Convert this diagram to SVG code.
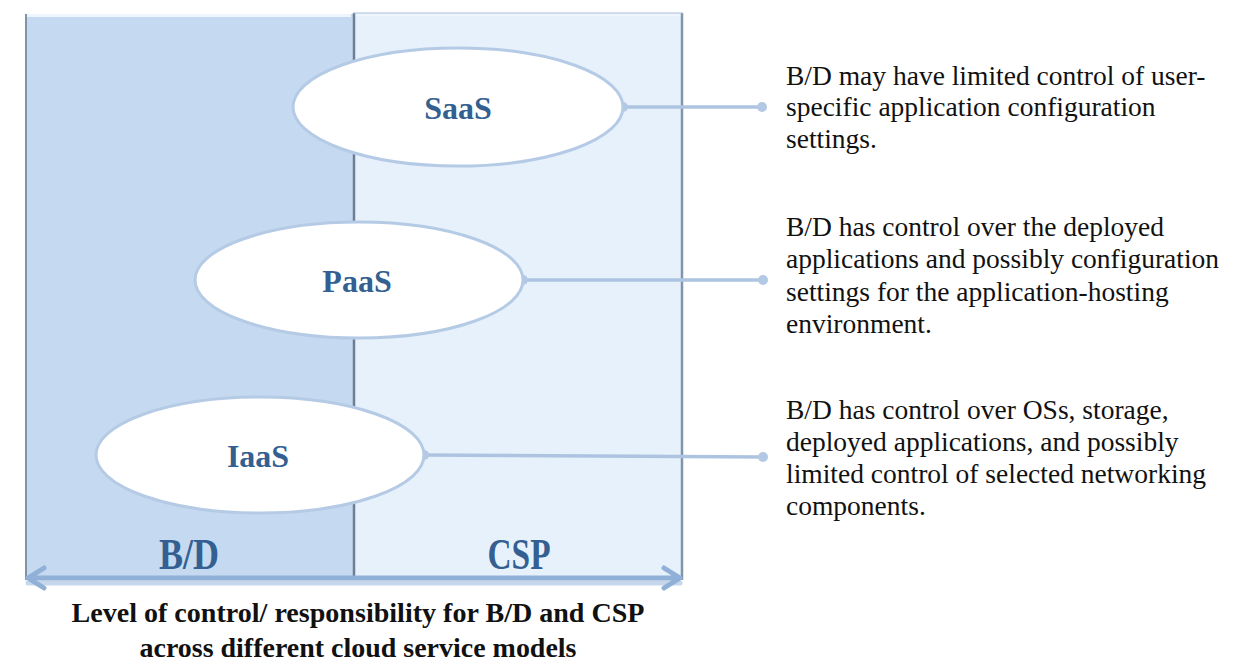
<svg xmlns="http://www.w3.org/2000/svg" width="1245" height="671" viewBox="0 0 1245 671">
<defs>
<style>
.panel-l{fill:#c5daf1;}
.panel-r{fill:#e7f1fc;}
.hl{fill:none;stroke:#eef5fd;stroke-width:3;}
.oval{fill:#ffffff;stroke:#b5cbe5;stroke-width:3;}
.olabel{font-family:"Liberation Serif",serif;font-weight:bold;font-size:32px;fill:#345f91;text-anchor:middle;}
.plabel{font-family:"Liberation Serif",serif;font-weight:bold;font-size:44px;fill:#345f91;text-anchor:middle;}
.desc{font-family:"Liberation Serif",serif;font-size:27.5px;fill:#111;}
.cap{font-family:"Liberation Serif",serif;font-weight:bold;font-size:27px;fill:#111;text-anchor:middle;}
.conn{stroke:#adc4e1;stroke-width:3.5;fill:none;}
.dot{fill:#b2c8e3;}
.arrow{stroke:#90b0d8;stroke-width:5;fill:none;stroke-linecap:round;stroke-linejoin:round;}
</style>
</defs>
<g id="panel-bd">
<rect class="panel-l" x="25" y="14" width="328" height="566"/>
<line class="hl" x1="27" y1="15.5" x2="351" y2="15.5"/>
<line x1="26" y1="14" x2="26" y2="580" stroke="#7f93ab" stroke-width="2"/>
</g>
<g id="panel-csp">
<rect class="panel-r" x="353" y="13" width="330" height="567"/>
<line class="hl" x1="355" y1="14.5" x2="681" y2="14.5"/>
<line x1="354" y1="13" x2="354" y2="580" stroke="#6e7f95" stroke-width="2.5"/>
<line x1="682" y1="13" x2="682" y2="580" stroke="#8395ac" stroke-width="2.5"/>
<line x1="353" y1="13" x2="683" y2="13" stroke="#a9bed6" stroke-width="1"/>
</g>
<g id="arrow">
<path class="arrow" d="M28 580 L680 580" stroke="#b8c6d6" opacity="0.5" transform="translate(0,3)"/>
<path class="arrow" d="M28 578 L680 578 M44 568 L28 578 L44 588 M664 568 L680 578 L664 588"/>
</g>
<g id="label-bd"><text class="plabel" x="189" y="569" textLength="60" lengthAdjust="spacingAndGlyphs">B/D</text></g>
<g id="label-csp"><text class="plabel" x="519" y="569" textLength="63" lengthAdjust="spacingAndGlyphs">CSP</text></g>
<g id="connectors">
<line class="conn" x1="623" y1="107" x2="762" y2="107"/>
<circle class="dot" cx="623" cy="107" r="5"/><circle class="dot" cx="762" cy="107" r="5"/>
<line class="conn" x1="523" y1="280" x2="763" y2="280"/>
<circle class="dot" cx="523" cy="280" r="5"/><circle class="dot" cx="763" cy="280" r="5"/>
<line class="conn" x1="424" y1="455" x2="763" y2="457"/>
<circle class="dot" cx="424" cy="455" r="5"/><circle class="dot" cx="763" cy="457" r="5"/>
</g>
<g id="saas">
<ellipse class="oval" cx="458" cy="107" rx="165" ry="59"/>
<text class="olabel" x="458" y="119">SaaS</text>
</g>
<g id="paas">
<ellipse class="oval" cx="359" cy="280" rx="164" ry="58"/>
<text class="olabel" x="357" y="292">PaaS</text>
</g>
<g id="iaas">
<ellipse class="oval" cx="260" cy="455" rx="164" ry="58"/>
<text class="olabel" x="258" y="467">IaaS</text>
</g>
<g id="desc-saas">
<text class="desc" x="786" y="85">B/D may have limited control of user-</text>
<text class="desc" x="786" y="116">specific application configuration</text>
<text class="desc" x="786" y="148">settings.</text>
</g>
<g id="desc-paas">
<text class="desc" x="786" y="236">B/D has control over the deployed</text>
<text class="desc" x="786" y="268">applications and possibly configuration</text>
<text class="desc" x="786" y="301">settings for the application-hosting</text>
<text class="desc" x="786" y="333">environment.</text>
</g>
<g id="desc-iaas">
<text class="desc" x="786" y="419">B/D has control over OSs, storage,</text>
<text class="desc" x="786" y="451">deployed applications, and possibly</text>
<text class="desc" x="786" y="483">limited control of selected networking</text>
<text class="desc" x="786" y="515">components.</text>
</g>
<g id="caption">
<text class="cap" x="358" y="622" textLength="573" lengthAdjust="spacingAndGlyphs">Level of control/ responsibility for B/D and CSP</text>
<text class="cap" x="358" y="657" textLength="437" lengthAdjust="spacingAndGlyphs">across different cloud service models</text>
</g>
</svg>
